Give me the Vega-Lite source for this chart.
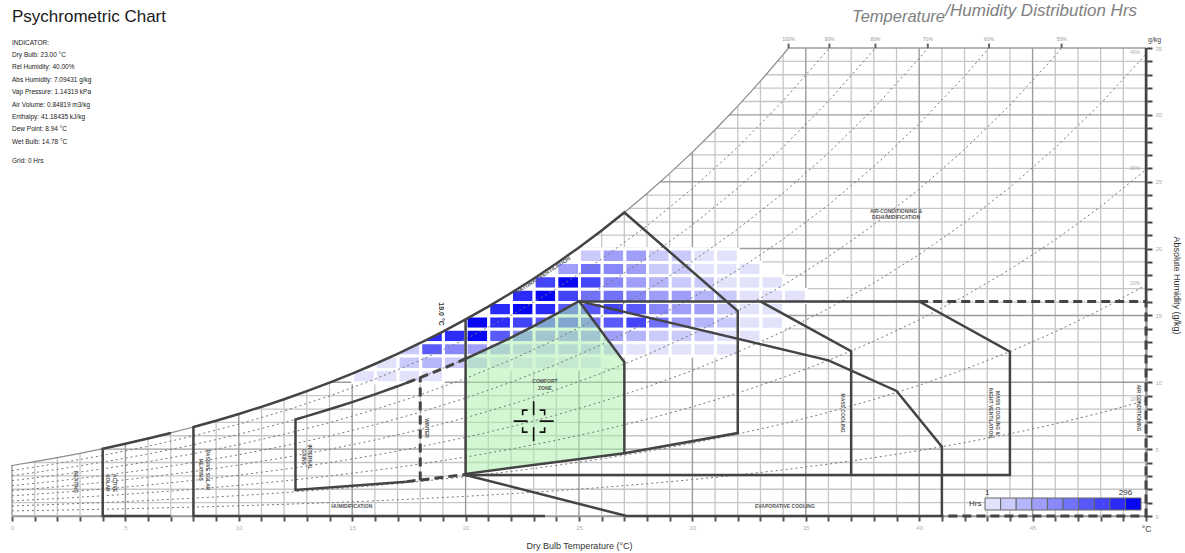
{
  "$schema": "https://vega.github.io/schema/vega-lite/v6.json",
  "width": 1134,
  "height": 468,
  "autosize": {"type": "none"},
  "padding": {"left": 12, "top": 48, "right": 39, "bottom": 37},
  "background": "#ffffff",
  "config": {"font": "Liberation Sans", "view": {"stroke": null}},
  "datasets": {
    "gridMinor": [
      {"g":"v1","t":[1,1],"w":[0,35]},{"g":"v2","t":[2,2],"w":[0,35]},{"g":"v3","t":[3,3],"w":[0,35]},{"g":"v4","t":[4,4],"w":[0,35]},
      {"g":"v6","t":[6,6],"w":[0,35]},{"g":"v7","t":[7,7],"w":[0,35]},{"g":"v8","t":[8,8],"w":[0,35]},{"g":"v9","t":[9,9],"w":[0,35]},
      {"g":"v11","t":[11,11],"w":[0,35]},{"g":"v12","t":[12,12],"w":[0,35]},{"g":"v13","t":[13,13],"w":[0,35]},{"g":"v14","t":[14,14],"w":[0,35]},
      {"g":"v16","t":[16,16],"w":[0,35]},{"g":"v17","t":[17,17],"w":[0,35]},{"g":"v18","t":[18,18],"w":[0,35]},{"g":"v19","t":[19,19],"w":[0,35]},
      {"g":"v21","t":[21,21],"w":[0,35]},{"g":"v22","t":[22,22],"w":[0,35]},{"g":"v23","t":[23,23],"w":[0,35]},{"g":"v24","t":[24,24],"w":[0,35]},
      {"g":"v26","t":[26,26],"w":[0,35]},{"g":"v27","t":[27,27],"w":[0,35]},{"g":"v28","t":[28,28],"w":[0,35]},{"g":"v29","t":[29,29],"w":[0,35]},
      {"g":"v31","t":[31,31],"w":[0,35]},{"g":"v32","t":[32,32],"w":[0,35]},{"g":"v33","t":[33,33],"w":[0,35]},{"g":"v34","t":[34,34],"w":[0,35]},
      {"g":"v36","t":[36,36],"w":[0,35]},{"g":"v37","t":[37,37],"w":[0,35]},{"g":"v38","t":[38,38],"w":[0,35]},{"g":"v39","t":[39,39],"w":[0,35]},
      {"g":"v41","t":[41,41],"w":[0,35]},{"g":"v42","t":[42,42],"w":[0,35]},{"g":"v43","t":[43,43],"w":[0,35]},{"g":"v44","t":[44,44],"w":[0,35]},
      {"g":"v46","t":[46,46],"w":[0,35]},{"g":"v47","t":[47,47],"w":[0,35]},{"g":"v48","t":[48,48],"w":[0,35]},{"g":"v49","t":[49,49],"w":[0,35]},
      {"g":"h1","t":[0,50],"w":[1,1]},{"g":"h2","t":[0,50],"w":[2,2]},{"g":"h3","t":[0,50],"w":[3,3]},{"g":"h4","t":[0,50],"w":[4,4]},
      {"g":"h6","t":[0,50],"w":[6,6]},{"g":"h7","t":[0,50],"w":[7,7]},{"g":"h8","t":[0,50],"w":[8,8]},{"g":"h9","t":[0,50],"w":[9,9]},
      {"g":"h11","t":[0,50],"w":[11,11]},{"g":"h12","t":[0,50],"w":[12,12]},{"g":"h13","t":[0,50],"w":[13,13]},{"g":"h14","t":[0,50],"w":[14,14]},
      {"g":"h16","t":[0,50],"w":[16,16]},{"g":"h17","t":[0,50],"w":[17,17]},{"g":"h18","t":[0,50],"w":[18,18]},{"g":"h19","t":[0,50],"w":[19,19]},
      {"g":"h21","t":[0,50],"w":[21,21]},{"g":"h22","t":[0,50],"w":[22,22]},{"g":"h23","t":[0,50],"w":[23,23]},{"g":"h24","t":[0,50],"w":[24,24]},
      {"g":"h26","t":[0,50],"w":[26,26]},{"g":"h27","t":[0,50],"w":[27,27]},{"g":"h28","t":[0,50],"w":[28,28]},{"g":"h29","t":[0,50],"w":[29,29]},
      {"g":"h31","t":[0,50],"w":[31,31]},{"g":"h32","t":[0,50],"w":[32,32]},{"g":"h33","t":[0,50],"w":[33,33]},{"g":"h34","t":[0,50],"w":[34,34]}
    ],
    "gridMajor": [
      {"g":"v0","t":[0,0],"w":[0,35]},{"g":"v5","t":[5,5],"w":[0,35]},{"g":"v10","t":[10,10],"w":[0,35]},{"g":"v15","t":[15,15],"w":[0,35]},
      {"g":"v20","t":[20,20],"w":[0,35]},{"g":"v25","t":[25,25],"w":[0,35]},{"g":"v30","t":[30,30],"w":[0,35]},{"g":"v35","t":[35,35],"w":[0,35]},
      {"g":"v40","t":[40,40],"w":[0,35]},{"g":"v45","t":[45,45],"w":[0,35]},{"g":"v50","t":[50,50],"w":[0,35]},
      {"g":"h0","t":[0,50],"w":[0,0]},{"g":"h5","t":[0,50],"w":[5,5]},{"g":"h10","t":[0,50],"w":[10,10]},{"g":"h15","t":[0,50],"w":[15,15]},
      {"g":"h20","t":[0,50],"w":[20,20]},{"g":"h25","t":[0,50],"w":[25,25]},{"g":"h30","t":[0,50],"w":[30,30]},{"g":"h35","t":[0,50],"w":[35,35]}
    ],
    "saturation": [
      {"t": [-0.05,0,1,2,3,4,5,6,7,8,9,10,11,12,13,14,15,16,17,18,19,20,21,22,23,24,25,26,27,28,29,30,31,32,33,34,34.24],
       "w": [3.775,3.775,4.060,4.364,4.689,5.034,5.403,5.796,6.213,6.657,7.129,7.632,8.165,8.732,9.334,9.972,10.650,11.369,12.131,12.938,13.793,14.699,15.658,16.673,17.748,18.884,20.086,21.358,22.702,24.122,25.623,27.210,28.885,30.655,32.525,34.500,35],
       "top": [35.1,35.1,35.1,35.1,35.1,35.1,35.1,35.1,35.1,35.1,35.1,35.1,35.1,35.1,35.1,35.1,35.1,35.1,35.1,35.1,35.1,35.1,35.1,35.1,35.1,35.1,35.1,35.1,35.1,35.1,35.1,35.1,35.1,35.1,35.1,35.1,35.1]}
    ],
    "rh": [
      {"p": "90", "t": [0,2,4,6,8,10,12,14,16,18,20,22,24,26,28,30,32,34,36.04],
       "w": [3.398,3.928,4.531,5.216,5.991,6.869,7.859,8.975,10.232,11.644,13.229,15.006,16.996,19.222,21.710,24.489,27.590,31.050,35]},
      {"p": "80", "t": [0,2,4,6,8,10,12,14,16,18,20,22,24,26,28,30,32,34,36,38,38.07],
       "w": [3.020,3.491,4.027,4.637,5.326,6.106,6.986,7.978,9.095,10.350,11.759,13.338,15.107,17.086,19.298,21.768,24.524,27.600,31.029,34.852,35]},
      {"p": "70", "t": [0,2,4,6,8,10,12,14,16,18,20,22,24,26,28,30,32,34,36,38,40,40.38],
       "w": [2.643,3.055,3.524,4.057,4.660,5.342,6.112,6.980,7.958,9.057,10.289,11.671,13.219,14.951,16.885,19.047,21.459,24.150,27.150,30.496,34.226,35]},
      {"p": "60", "t": [0,2,4,6,8,10,12,14,16,18,20,22,24,26,28,30,32,34,36,38,40,42,43.08],
       "w": [2.265,2.618,3.020,3.478,3.994,4.579,5.239,5.983,6.821,7.763,8.819,10.004,11.330,12.815,14.473,16.326,18.393,20.700,23.272,26.139,29.336,32.900,35]},
      {"p": "50", "t": [0,2,4,6,8,10,12,14,16,18,20,22,24,26,28,30,32,34,36,38,40,42,44,46,46.28],
       "w": [1.888,2.182,2.517,2.898,3.329,3.816,4.366,4.986,5.685,6.469,7.350,8.337,9.442,10.679,12.061,13.605,15.328,17.250,19.393,21.783,24.447,27.417,30.731,34.429,35]},
      {"p": "40", "t": [0,2,4,6,8,10,12,14,16,18,20,22,24,26,28,30,32,34,36,38,40,42,44,46,48,50],
       "w": [1.510,1.746,2.014,2.318,2.663,3.053,3.493,3.989,4.548,5.175,5.880,6.669,7.554,8.543,9.649,10.884,12.262,13.800,15.514,17.426,19.558,21.934,24.584,27.543,30.848,34.540]},
      {"p": "30", "t": [0,2,4,6,8,10,12,14,16,18,20,22,24,26,28,30,32,34,36,38,40,42,44,46,48,50],
       "w": [1.133,1.309,1.510,1.739,1.997,2.290,2.620,2.992,3.411,3.881,4.410,5.002,5.665,6.407,7.237,8.163,9.197,10.350,11.636,13.070,14.668,16.450,18.438,20.657,23.136,25.905]},
      {"p": "20", "t": [0,2,4,6,8,10,12,14,16,18,20,22,24,26,28,30,32,34,36,38,40,42,44,46,48,50],
       "w": [0.755,0.873,1.007,1.159,1.331,1.526,1.746,1.994,2.274,2.588,2.940,3.335,3.777,4.272,4.824,5.442,6.131,6.900,7.757,8.713,9.779,10.967,12.292,13.771,15.424,17.270]},
      {"p": "10", "t": [0,2,4,6,8,10,12,14,16,18,20,22,24,26,28,30,32,34,36,38,40,42,44,46,48,50],
       "w": [0.378,0.436,0.503,0.580,0.666,0.763,0.873,0.997,1.137,1.294,1.470,1.667,1.888,2.136,2.412,2.721,3.066,3.450,3.879,4.357,4.889,5.483,6.146,6.886,7.712,8.635]}
    ],
    "zonesSolid": [
      {"id": "active", "t": [7,4,4,5,6,7], "w": [0,0,5.034,5.403,5.796,6.213]},
      {"id": "passive", "t": [23.5,8,8,9,10,11,12,13,14,15,16,17,18,19,20,21,22,23,24,25,26,27,32,32,27,20,20],
       "w": [0,0,6.657,7.129,7.632,8.165,8.732,9.334,9.972,10.650,11.369,12.131,12.938,13.793,14.699,15.658,16.673,17.748,18.884,20.086,21.358,22.702,15.33,6.2,4.7,3.15,14.699]},
      {"id": "comfort", "t": [20,21,22,23,24,25,27,27], "w": [11.76,12.53,13.34,14.20,15.11,16.07,11.5,4.7]},
      {"id": "gains", "t": [17.4,17,16,15,14,13,12.5,12.5,17.4], "w": [9.96,9.70,9.10,8.52,7.98,7.47,7.22,1.95,2.57]},
      {"id": "nightvent", "t": [25,40,44,44,20], "w": [16.05,16.05,12.29,3.07,3.07]},
      {"id": "mass", "t": [33,37,37], "w": [16.05,12.33,3.07]},
      {"id": "evap", "t": [25,36,39,41,41,27.1,20], "w": [16.07,11.64,9.35,5.18,0,0,3.07]},
      {"id": "edge", "t": [50,50], "w": [16.05,35]}
    ],
    "zonesDashed": [
      {"id": "gainsTop", "t": [17.4,18,19,20], "w": [9.96,10.35,11.03,11.76]},
      {"id": "gainsBase", "t": [17.4,20], "w": [2.57,3.1]},
      {"id": "winter", "t": [18,18], "w": [2.65,10.35]},
      {"id": "aircon", "t": [40,50,50,41], "w": [16.05,16.05,0,0]}
    ],
    "comfortZone": [
      {"id": "comfort", "t": [20,20,21,22,23,24,25,27,27], "w": [3.15,11.76,12.53,13.34,14.20,15.11,16.07,11.5,4.7]}
    ],
    "rhTop": [
      {"g": "100%", "t": [34.24,34.24], "w": [35,35.33]},
      {"g": "90%", "t": [36.04,36.04], "w": [35,35.33]},
      {"g": "80%", "t": [38.07,38.07], "w": [35,35.33]},
      {"g": "70%", "t": [40.38,40.38], "w": [35,35.33]},
      {"g": "60%", "t": [43.08,43.08], "w": [35,35.33]},
      {"g": "50%", "t": [46.28,46.28], "w": [35,35.33]}
    ]
  },
  "encoding": {
    "x": {
      "field": "t", "type": "quantitative",
      "scale": {"domain": [0, 50], "nice": false, "zero": false},
      "axis": {
        "values": [0,1,2,3,4,5,6,7,8,9,10,11,12,13,14,15,16,17,18,19,20,21,22,23,24,25,26,27,28,29,30,31,32,33,34,35,36,37,38,39,40,41,42,43,44,45,46,47,48,49,50],
        "title": "Dry  Bulb Temperature (°C)",
        "grid": false, "zindex": 0,
        "domainColor": "#9a9a9a", "domainWidth": 1.5,
        "tickColor": "#555555", "tickWidth": 2, "tickSize": 5,
        "labelExpr": "datum.value === 50 ? '°C' : (datum.value % 5 === 0 ? datum.label : '')",
        "labelColor": {"condition": {"test": "datum.value === 50", "value": "#444444"}, "value": "#b0b0b0"},
        "labelFontSize": {"condition": {"test": "datum.value === 50", "value": 8.5}, "value": 6},
        "labelPadding": 3, "labelFlush": false, "labelOverlap": false,
        "titleFontSize": 9, "titleFontWeight": "normal", "titleColor": "#333333",
        "titleY": 29, "titleBaseline": "middle"
      }
    },
    "y": {
      "field": "w", "type": "quantitative",
      "scale": {"domain": [0, 35], "nice": false, "zero": false},
      "axis": {
        "orient": "right",
        "values": [0,1,2,3,4,5,6,7,8,9,10,11,12,13,14,15,16,17,18,19,20,21,22,23,24,25,26,27,28,29,30,31,32,33,34,35],
        "title": "Absolute Humidity  (g/kg)",
        "grid": false, "zindex": 0,
        "domainColor": "#8a8a8a", "domainWidth": 2,
        "tickColor": "#444444", "tickWidth": 2, "tickSize": 6,
        "labelExpr": "datum.value % 5 === 0 ? datum.label : ''",
        "labelColor": "#b0b0b0", "labelFontSize": 6, "labelPadding": 3, "labelFlush": false, "labelOverlap": false,
        "titleAngle": 90, "titleX": 30, "titleY": 237, "titleAlign": "center", "titleBaseline": "middle",
        "titleFontSize": 9, "titleFontWeight": "normal", "titleColor": "#333333"
      }
    }
  },
  "layer": [
    {
      "data": {"name": "gridMinor"},
      "transform": [{"flatten": ["t", "w"]}],
      "mark": {"type": "line", "color": "#c6c6c6", "strokeWidth": 1.3},
      "encoding": {"detail": {"field": "g"}}
    },
    {
      "data": {"name": "gridMajor"},
      "transform": [{"flatten": ["t", "w"]}],
      "mark": {"type": "line", "color": "#9c9c9c", "strokeWidth": 1.4},
      "encoding": {"detail": {"field": "g"}}
    },
    {
      "data": {"values": [
        {"w": 19, "t": [25,26,27,28,29,30,31], "h": [45,104,101,44,38,14,7]},
        {"w": 18, "t": [24,25,26,27,28,29,30,31,32], "h": [98,160,136,102,50,40,20,12,5]},
        {"w": 17, "t": [23,24,25,26,27,28,29,30,31,32,33], "h": [222,288,215,134,104,78,48,38,20,11,4]},
        {"w": 16, "t": [22,23,24,25,26,27,28,29,30,31,32,33,34], "h": [252,296,222,163,158,134,104,96,75,45,22,12,5]},
        {"w": 15, "t": [21,22,23,24,25,26,27,28,29,30,31,32,33], "h": [255,292,250,193,186,215,190,134,104,98,45,20,8]},
        {"w": 14, "t": [20,21,22,23,24,25,26,27,28,29,30,31,32,33], "h": [275,250,225,195,190,165,185,220,160,105,75,45,20,8]},
        {"w": 13, "t": [18,19,20,21,22,23,24,25,26,27,28,29,30,31,32], "h": [250,255,278,190,135,105,100,100,95,75,50,40,35,20,8]},
        {"w": 12, "t": [17,18,19,20,21,22,23,24,25,26,27,28,29,30,31], "h": [40,193,135,105,75,50,45,40,35,35,22,20,15,10,5]},
        {"w": 11, "t": [16,17,18,19,20,21,22,23,24,25], "h": [15,50,75,45,40,22,20,15,12,8]},
        {"w": 10, "t": [15,16,17,18], "h": [5,8,10,6]}
      ]},
      "transform": [{"flatten": ["t", "h"]}],
      "mark": {"type": "rect", "stroke": "#ffffff", "strokeWidth": 3},
      "encoding": {
        "x": {"field": "t", "type": "quantitative", "bin": {"binned": true, "step": 1}, "title": "Dry  Bulb Temperature (°C)"},
        "y": {"field": "w", "type": "quantitative", "bin": {"binned": true, "step": 1}, "title": "Absolute Humidity  (g/kg)"},
        "color": {
          "field": "h", "type": "quantitative",
          "scale": {"type": "quantize", "domain": [1, 296],
                    "range": ["#e2e2fb", "#cbcbfb", "#b5b5fa", "#9f9ffa", "#8888fa", "#7171fa", "#5a5afa", "#4343fa", "#2c2cfa", "#0707f2"]},
          "legend": {
            "type": "gradient", "title": "Hrs", "orient": "none", "legendX": 957, "legendY": 450,
            "direction": "horizontal", "titleOrient": "left", "titleFontSize": 8, "titleFontWeight": "normal",
            "titleColor": "#333333", "titlePadding": 3,
            "gradientLength": 156, "gradientThickness": 12,
            "gradientStrokeColor": "#666666", "gradientStrokeWidth": 1,
            "labelOffset": -21, "labelFontSize": 8, "labelColor": "#333333", "labelOverlap": false, "labelAlign": "left",
            "labelExpr": "datum.value < 2 ? '1' : (datum.value > 260 ? '296' : '')"
          }
        }
      }
    },
    {
      "data": {"name": "saturation"},
      "transform": [{"flatten": ["t", "w", "top"]}],
      "mark": {"type": "area", "color": "#ffffff", "opacity": 1},
      "encoding": {"y2": {"field": "top"}}
    },
    {
      "data": {"name": "comfortZone"},
      "transform": [{"flatten": ["t", "w"]}, {"window": [{"op": "row_number", "as": "i"}], "groupby": ["id"]}],
      "mark": {"type": "line", "interpolate": "linear-closed", "fill": "#a6f0a6", "fillOpacity": 0.5, "strokeWidth": 0},
      "encoding": {"order": {"field": "i", "type": "quantitative"}}
    },
    {
      "data": {"name": "rh"},
      "transform": [{"flatten": ["t", "w"]}],
      "mark": {"type": "line", "color": "#777777", "strokeWidth": 1, "strokeDash": [2, 3]},
      "encoding": {"detail": {"field": "p"}}
    },
    {
      "data": {"name": "saturation"},
      "transform": [{"flatten": ["t", "w"]}],
      "mark": {"type": "line", "color": "#8a8a8a", "strokeWidth": 1.2}
    },
    {
      "data": {"name": "zonesSolid"},
      "transform": [{"flatten": ["t", "w"]}, {"window": [{"op": "row_number", "as": "i"}], "groupby": ["id"]}],
      "mark": {"type": "line", "color": "#444444", "strokeWidth": 2.5},
      "encoding": {"detail": {"field": "id"}, "order": {"field": "i", "type": "quantitative"}}
    },
    {
      "data": {"name": "zonesDashed"},
      "transform": [{"flatten": ["t", "w"]}, {"window": [{"op": "row_number", "as": "i"}], "groupby": ["id"]}],
      "mark": {"type": "line", "color": "#444444", "strokeWidth": 3, "strokeDash": [9, 5]},
      "encoding": {"detail": {"field": "id"}, "order": {"field": "i", "type": "quantitative"}}
    },
    {
      "data": {"values": [{"t": 19}]},
      "mark": {"type": "rule", "color": "#333333", "strokeWidth": 2, "strokeDash": [2, 2.5]},
      "encoding": {"y": {"datum": 17.1}, "y2": {"datum": -1.05}}
    },
    {
      "data": {"values": [{"t": 23, "w": 7.09431}]},
      "mark": {"type": "point", "filled": false, "stroke": "#111111", "strokeWidth": 1.6, "size": 1600, "opacity": 1,
               "shape": "M-1,0H-0.3M0.3,0H1M0,-1V-0.3M0,0.3V1M-0.55,-0.3V-0.55H-0.3M0.3,-0.55H0.55V-0.3M-0.55,0.3V0.55H-0.3M0.3,0.55H0.55V0.3"}
    },
    {
      "data": {"name": "rhTop"},
      "transform": [{"flatten": ["t", "w"]}],
      "mark": {"type": "line", "color": "#666666", "strokeWidth": 2},
      "encoding": {"detail": {"field": "g"}}
    },
    {
      "data": {"values": [{"t": 34.24, "w": 35, "lab": "100%"}, {"t": 36.04, "w": 35, "lab": "90%"}, {"t": 38.07, "w": 35, "lab": "80%"}, {"t": 40.38, "w": 35, "lab": "70%"}, {"t": 43.08, "w": 35, "lab": "60%"}, {"t": 46.28, "w": 35, "lab": "50%"}]},
      "mark": {"type": "text", "fontSize": 5, "color": "#999999", "baseline": "middle", "dy": -9},
      "encoding": {"text": {"field": "lab"}}
    },
    {
      "data": {"values": [{"t": 50, "w": 34.54, "lab": "40%"}, {"t": 50, "w": 25.905, "lab": "30%"}, {"t": 50, "w": 17.27, "lab": "20%"}, {"t": 50, "w": 8.635, "lab": "10%"}]},
      "mark": {"type": "text", "fontSize": 5, "color": "#aaaaaa", "align": "right", "baseline": "middle", "dx": -6, "dy": -2},
      "encoding": {"text": {"field": "lab"}}
    },
    {
      "data": {"values": [{"t": 50, "w": 35.6, "lab": "g/kg"}]},
      "mark": {"type": "text", "fontSize": 7, "color": "#444444", "align": "left", "baseline": "middle", "dx": 2},
      "encoding": {"text": {"field": "lab"}}
    },
    {
      "data": {"values": [
        {"t": 14.98, "w": 0.75, "lab": "HUMIDIFICATION"},
        {"t": 23.5, "w": 10.06, "lab": "COMFORT\nZONE"},
        {"t": 38.98, "w": 22.81, "lab": "AIR-CONDITIONING &\nDEHUMIDIFICATION"},
        {"t": 34.08, "w": 0.75, "lab": "EVAPORATIVE COOLING"}
      ]},
      "mark": {"type": "text", "fontSize": 5, "fontWeight": "bold", "color": "#555555", "align": "center", "baseline": "middle", "lineBreak": "\n", "lineHeight": 6.5},
      "encoding": {"text": {"field": "lab"}}
    },
    {
      "data": {"values": [
        {"t": 2.82, "w": 2.54, "lab": "HEATING"},
        {"t": 4.54, "w": 2.47, "lab": "ACTIVE\nSOLAR"},
        {"t": 8.64, "w": 3.44, "lab": "PASSIVE SOLAR\nHEATING"},
        {"t": 13.14, "w": 4.41, "lab": "INTERNAL\nGAINS"},
        {"t": 18.3, "w": 6.58, "lab": "WINTER"},
        {"t": 36.64, "w": 7.7, "lab": "MASS COOLING"},
        {"t": 43.47, "w": 7.7, "lab": "MASS COOLING &\nNIGHT VENTILATION"},
        {"t": 49.67, "w": 8.08, "lab": "AIR CONDITIONING"}
      ]},
      "mark": {"type": "text", "fontSize": 5, "fontWeight": "bold", "color": "#555555", "align": "center", "baseline": "middle", "angle": 90, "lineBreak": "\n", "lineHeight": 6.5},
      "encoding": {"text": {"field": "lab"}}
    },
    {
      "data": {"values": [{"t": 23.41, "w": 18.03, "lab": "NATURAL VENTILATION"}]},
      "mark": {"type": "text", "fontSize": 5.5, "fontWeight": "bold", "color": "#555555", "align": "center", "baseline": "middle", "angle": -33},
      "encoding": {"text": {"field": "lab"}}
    },
    {
      "data": {"values": [{"t": 18.92, "w": 15.1, "lab": "19.0 °C"}]},
      "mark": {"type": "text", "fontSize": 7, "fontWeight": "bold", "color": "#333333", "align": "center", "baseline": "middle", "angle": 90},
      "encoding": {"text": {"field": "lab"}}
    },
    {
      "data": {"values": [{"t": 0, "w": 37.3, "lab": "Psychrometric Chart"}]},
      "mark": {"type": "text", "fontSize": 17, "color": "#1a1a1a", "align": "left", "baseline": "middle"},
      "encoding": {"text": {"field": "lab"}}
    },
    {
      "data": {"values": [
        {"t": 0, "w": 35.25, "lab": "INDICATOR:\nDry Bulb: 23.00 °C\nRel Humidity: 40.00%\nAbs Humidity: 7.09431 g/kg\nVap Pressure: 1.14319 kPa\nAir Volume: 0.84819 m3/kg\nEnthalpy: 41.18435 kJ/kg\nDew Point: 8.94 °C\nWet Bulb: 14.78 °C"},
        {"t": 0, "w": 26.42, "lab": "Grid: 0 Hrs"}
      ]},
      "mark": {"type": "text", "fontSize": 6.5, "color": "#222222", "align": "left", "baseline": "alphabetic", "lineBreak": "\n", "lineHeight": 12.4},
      "encoding": {"text": {"field": "lab"}}
    },
    {
      "data": {"values": [{"t": 37.04, "w": 36.95, "lab": "Temperature"}]},
      "mark": {"type": "text", "fontSize": 16.5, "fontStyle": "italic", "color": "#808080", "align": "left", "baseline": "alphabetic"},
      "encoding": {"text": {"field": "lab"}}
    },
    {
      "data": {"values": [{"t": 41.15, "w": 37.38, "lab": "/Humidity Distribution Hrs"}]},
      "mark": {"type": "text", "fontSize": 17, "fontStyle": "italic", "color": "#808080", "align": "left", "baseline": "alphabetic"},
      "encoding": {"text": {"field": "lab"}}
    }
  ]
}
